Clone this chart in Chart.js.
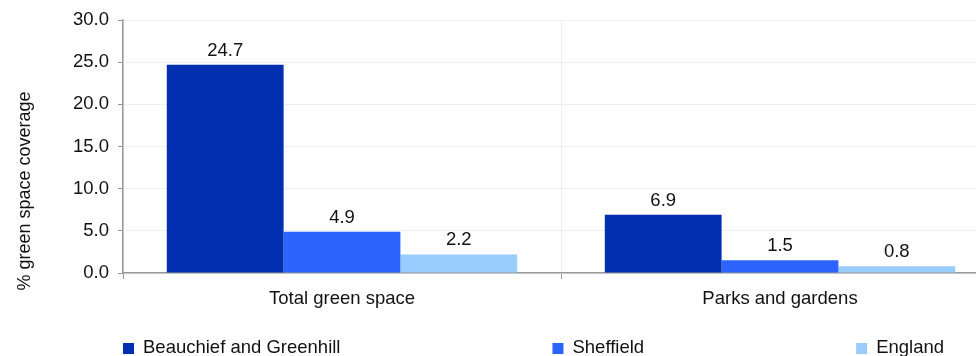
<!DOCTYPE html>
<html>
<head>
<meta charset="utf-8">
<script src="https://cdn.jsdelivr.net/npm/chart.js@4"></script>
<style>
  html, body { margin: 0; padding: 0; background: #fff; overflow: hidden; }
  #wrap { width: 1010px; height: 356px; position: relative; }
</style>
</head>
<body>
<div id="wrap"><canvas id="chart"></canvas></div>
<script>
// Data
const categories = ["Total green space", "Parks and gardens"];
const seriesNames = ["Beauchief and Greenhill", "Sheffield", "England"];
const beauchief = [24.7, 6.9];
const sheffield = [4.9, 1.5];
const england = [2.2, 0.8];
const colors = ["#022eb0", "#2e64fe", "#99ccff"];
const yTitle = "% green space coverage";

const FONT = "'Liberation Sans', Arial, sans-serif";
const SIZE = 18.5;

// value labels above bars
const valueLabels = {
    id: "valueLabels",
    afterDatasetsDraw(chart) {
        const ctx = chart.ctx;
        ctx.save();
        ctx.font = SIZE + "px " + FONT;
        ctx.fillStyle = "#111";
        ctx.textAlign = "center";
        ctx.textBaseline = "alphabetic";
        chart.data.datasets.forEach((ds, i) => {
            chart.getDatasetMeta(i).data.forEach((bar, j) => {
                ctx.fillText(ds.data[j].toFixed(1), bar.x, bar.y - 9);
            });
        });
        ctx.restore();
    }
};

// y axis title + spread legend
const extras = {
    id: "extras",
    afterDraw(chart) {
        const ctx = chart.ctx;
        const area = chart.chartArea;
        ctx.save();
        ctx.fillStyle = "#111";

        // axis title
        ctx.save();
        ctx.font = "18px " + FONT;
        ctx.translate(25, 191);
        ctx.rotate(-Math.PI / 2);
        ctx.textAlign = "center";
        ctx.textBaseline = "middle";
        ctx.fillText(yTitle, 0, 0);
        ctx.restore();

        // legend
        ctx.font = SIZE + "px " + FONT;
        let x = area.left;
        const y = 348;
        ctx.textAlign = "left";
        ctx.textBaseline = "middle";
        chart.data.datasets.forEach(ds => {
            ctx.fillStyle = ds.backgroundColor;
            ctx.fillRect(x, y - 5, 11, 11);
            ctx.fillStyle = "#111";
            ctx.fillText(ds.label, x + 20, y);
            x += 20 + ctx.measureText(ds.label).width + 212;
        });
        ctx.restore();
    }
};

new Chart(document.getElementById("chart"), {
    type: "bar",
    data: {
        labels: categories,
        datasets: [
            { label: seriesNames[0], data: beauchief, backgroundColor: colors[0] },
            { label: seriesNames[1], data: sheffield, backgroundColor: colors[1] },
            { label: seriesNames[2], data: england, backgroundColor: colors[2] }
        ]
    },
    options: {
        responsive: true,
        maintainAspectRatio: false,
        animation: false,
        devicePixelRatio: 1,
        layout: { padding: { top: 19, right: 11, bottom: 0, left: 0 } },
        datasets: { bar: { categoryPercentage: 0.8, barPercentage: 1.0 } },
        plugins: {
            legend: { display: false },
            tooltip: { enabled: false }
        },
        scales: {
            x: {
                grid: { color: "#efefef", tickColor: "#999", tickLength: 6, offset: true },
                border: { color: "#999", width: 1.5 },
                ticks: { color: "#111", font: { family: FONT, size: SIZE }, padding: 9 },
                afterFit: s => { s.height = 83; }
            },
            y: {
                min: 0,
                max: 30,
                grid: { color: "#efefef", tickColor: "#999", tickLength: 5 },
                border: { color: "#999", width: 1.5 },
                ticks: {
                    stepSize: 5,
                    color: "#111",
                    font: { family: FONT, size: SIZE },
                    padding: 9,
                    callback: v => v.toFixed(1)
                },
                afterFit: s => { s.width = 123; }
            }
        }
    },
    plugins: [valueLabels, extras]
});
</script>
</body>
</html>
